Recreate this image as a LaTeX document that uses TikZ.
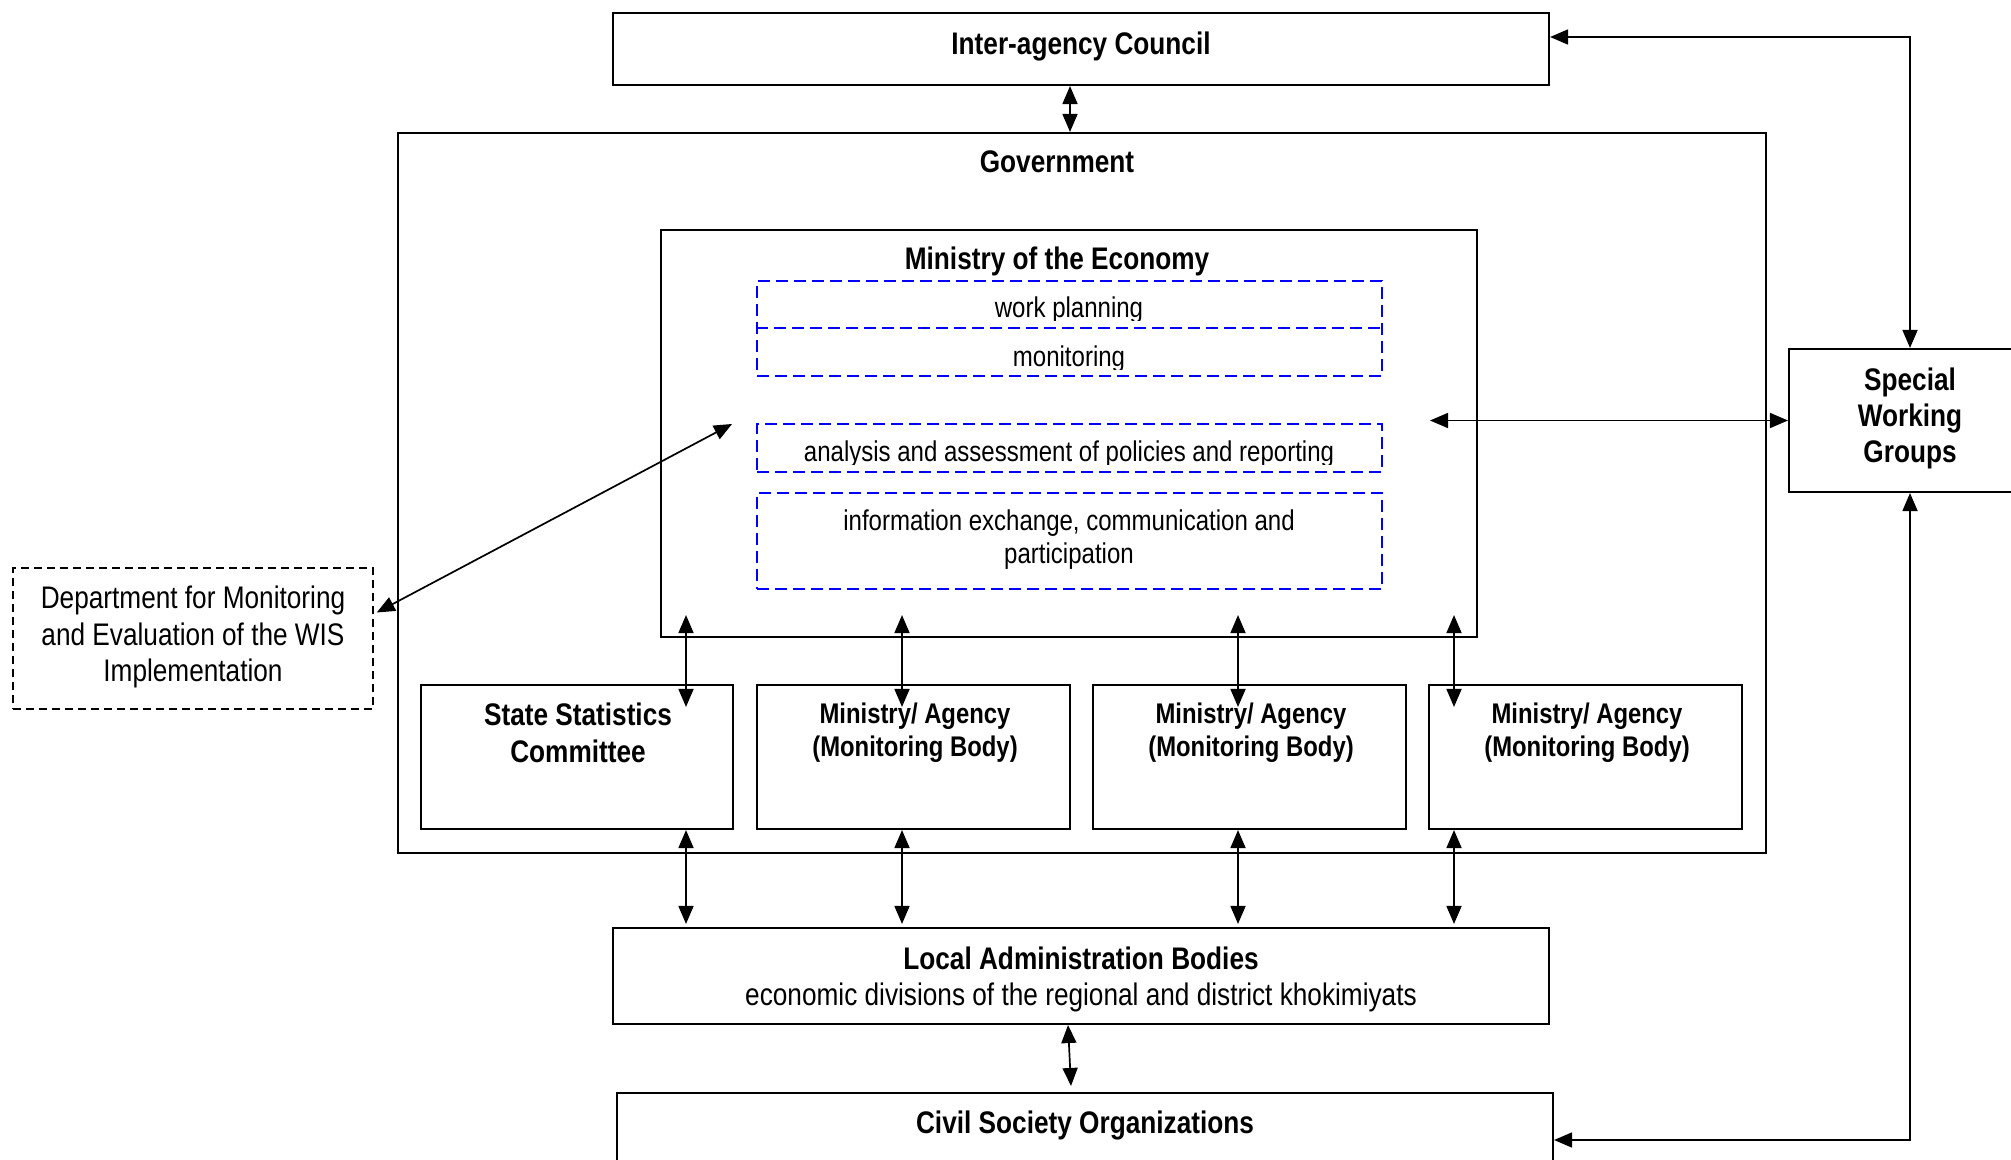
\documentclass[tikz,border=0pt]{standalone}
\usepackage{fontspec}
\setmainfont[FakeStretch=0.84]{Liberation Sans}
\usetikzlibrary{arrows.meta,fit,calc}
\begin{document}
\begin{tikzpicture}[x=0.5pt,y=-0.5pt,
  box/.style={draw, line width=1.05pt, inner sep=0pt, rectangle},
  bluedash/.style={draw=blue, line width=0.85pt, dash pattern=on 6pt off 3pt},
  bluebox/.style={bluedash, inner sep=0pt, rectangle},
  deptbox/.style={draw, line width=0.75pt, dash pattern=on 4pt off 2.5pt, inner sep=0pt, rectangle},
  lab/.style={inner sep=0pt, anchor=base, font=\fontsize{15.6}{18}\selectfont},
  blab/.style={inner sep=0pt, anchor=base, font=\fontsize{15.6}{18}\selectfont\bfseries},
  slab/.style={inner sep=0pt, anchor=base, font=\fontsize{14.3}{16}\selectfont},
  mlab/.style={inner sep=0pt, anchor=base, font=\fontsize{14.2}{16}\selectfont\bfseries},
  tip/.tip={Triangle[length=9pt,width=7.5pt]},
  conn/.style={line width=0.85pt, tip-tip},
]
\useasboundingbox (0,0) rectangle (2011,1160);
\clip (0,0) rectangle (2011,1160);

% boxes
\node[box, fit={(613,13) (1549,85)}] (iac) {};
\node[box, fit={(398,133) (1766,853)}] (gov) {};
\node[box, fit={(661,230) (1477,637)}] (mec) {};
\node[bluebox, fit={(757,281) (1382,376)}] (wmb) {};
\coordinate (mid) at (0,328);
\draw[bluedash] (wmb.west |- mid) -- (wmb.east |- mid);
\node[bluebox, fit={(757,424) (1382,472)}] (anab) {};
\node[bluebox, fit={(757,493) (1382,589)}] (infb) {};
\node[deptbox, fit={(13,568) (373,709)}] (dept) {};
\node[box, fit={(1789,349) (2031,492)}] (swg) {};
\node[box, fit={(421,685) (733,829)}] (ssc) {};
\node[box, fit={(757,685) (1070,829)}] (ma1) {};
\node[box, fit={(1093,685) (1406,829)}] (ma2) {};
\node[box, fit={(1429,685) (1742,829)}] (ma3) {};
\node[box, fit={(613,928) (1549,1024)}] (lab) {};
\node[box, fit={(617,1093) (1553,1187)}] (cso) {};

% texts
\node[blab] (iacT) at (1081,55) {Inter-agency Council};
\node[blab] (govT) at (1057,173) {Government};
\node[blab] (mecT) at (1057,270) {Ministry of the Economy};
\begin{scope}
\clip (757,281) rectangle (1382,321);
\node[slab] (wpT) at (1069,318) {work planning};
\end{scope}
\begin{scope}
\clip (757,328) rectangle (1382,369);
\node[slab] (monT) at (1069,366) {monitoring};
\end{scope}
\begin{scope}
\clip (757,424) rectangle (1382,464);
\node[slab] (anaT) at (1069,461) {analysis and assessment of policies and reporting};
\end{scope}
\node[slab] (infT1) at (1069,530) {information exchange, communication and};
\node[slab] (infT2) at (1069,563) {participation};
\node[lab] (depT1) at (193,608) {Department for Monitoring};
\node[lab] (depT2) at (193,645) {and Evaluation of the WIS};
\node[lab] (depT3) at (193,681) {Implementation};
\node[blab] (swgT1) at (1910,390) {Special};
\node[blab] (swgT2) at (1910,426) {Working};
\node[blab] (swgT3) at (1910,462) {Groups};
\node[blab] (sscT1) at (578,725) {State Statistics};
\node[blab] (sscT2) at (578,762) {Committee};
\node[mlab] (ma1T1) at (915,723) {Ministry/ Agency};
\node[mlab] (ma1T2) at (915,756) {(Monitoring Body)};
\node[mlab] (ma2T1) at (1251,723) {Ministry/ Agency};
\node[mlab] (ma2T2) at (1251,756) {(Monitoring Body)};
\node[mlab] (ma3T1) at (1587,723) {Ministry/ Agency};
\node[mlab] (ma3T2) at (1587,756) {(Monitoring Body)};
\node[blab] (labT1) at (1081,969) {Local Administration Bodies};
\node[lab] (labT2) at (1081,1005) {economic divisions of the regional and district khokimiyats};
\node[blab] (csoT) at (1085,1133) {Civil Society Organizations};

% column coordinates
\coordinate (c0) at (1070,0);
\coordinate (c1) at (686,0);
\coordinate (c2) at (902,0);
\coordinate (c3) at (1238,0);
\coordinate (c4) at (1454,0);
\coordinate (diagEnd) at (732,424);
\coordinate (hEnd) at (1430,420.5);

% connectors
\draw[conn] (iac.south -| c0) -- (gov.north -| c0);
\draw[conn] ($(iac.east)+(0,-12)$) -| (swg.north);
\draw[conn] (swg.south) |- (cso.east);
\draw[conn] (hEnd) -- (swg.west);
\draw[conn] ($(dept.east)+(3,-26)$) -- (diagEnd);
\draw[conn] ($(mec.south -| c1)+(0,-23)$) -- ($(ssc.north -| c1)+(0,23)$);
\draw[conn] ($(mec.south -| c2)+(0,-23)$) -- ($(ma1.north -| c2)+(0,23)$);
\draw[conn] ($(mec.south -| c3)+(0,-23)$) -- ($(ma2.north -| c3)+(0,23)$);
\draw[conn] ($(mec.south -| c4)+(0,-23)$) -- ($(ma3.north -| c4)+(0,23)$);
\draw[conn] (ssc.south -| c1) -- ($(lab.north -| c1)+(0,-3)$);
\draw[conn] (ma1.south -| c2) -- ($(lab.north -| c2)+(0,-3)$);
\draw[conn] (ma2.south -| c3) -- ($(lab.north -| c3)+(0,-3)$);
\draw[conn] (ma3.south -| c4) -- ($(lab.north -| c4)+(0,-3)$);
\draw[conn] ($(lab.south)+(-13,0)$) -- ($(cso.north)+(-14,-6)$);
\end{tikzpicture}
\end{document}
